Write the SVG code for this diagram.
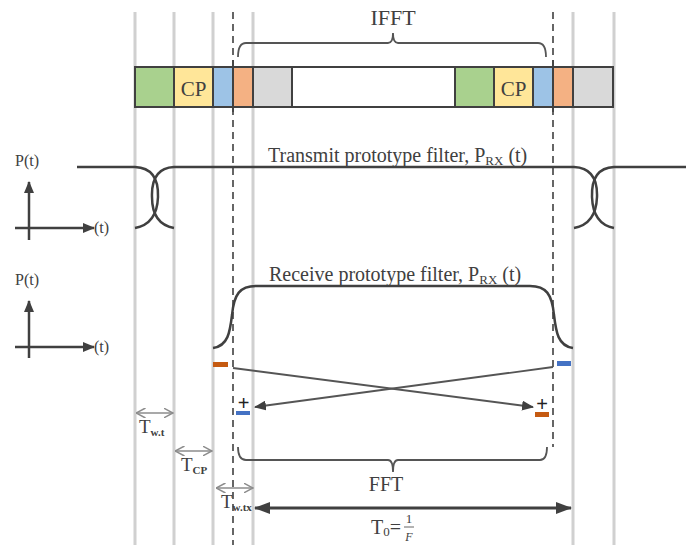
<svg xmlns="http://www.w3.org/2000/svg" width="686" height="547" viewBox="0 0 686 547">
<style>
.g{stroke:#d0d0d0;stroke-width:3;fill:none}
.d{stroke:#404040;stroke-width:1.6;fill:none;stroke-dasharray:7,5}
.box{stroke:#404040;stroke-width:2}
.k{stroke:#404040;stroke-width:2.5;fill:none}
.t{font-family:"Liberation Serif","Times New Roman",serif;fill:#404040}
.thin{stroke:#555;stroke-width:1.8;fill:none}
.dim{stroke:#8c8c8c;stroke-width:1.5;fill:none}
</style>
<defs>
<marker id="ah" viewBox="0 0 12 10" refX="11" refY="5" markerWidth="12" markerHeight="10" markerUnits="userSpaceOnUse" orient="auto-start-reverse"><path d="M0,0 L12,5 L0,10 z" fill="#404040"/></marker>
<marker id="ab" viewBox="0 0 16 12" refX="15" refY="6" markerWidth="16" markerHeight="12" markerUnits="userSpaceOnUse" orient="auto-start-reverse"><path d="M0,0 L16,6 L0,12 z" fill="#404040"/></marker>
<marker id="ao" viewBox="0 0 10 10" refX="9.5" refY="5" markerWidth="10" markerHeight="10" markerUnits="userSpaceOnUse" orient="auto-start-reverse"><path d="M0,0 L9.5,5 L0,10" fill="none" stroke="#8c8c8c" stroke-width="1.5"/></marker>
</defs>
<g id="gridlines">
<line class="g" x1="135" y1="12" x2="135" y2="545"/>
<line class="g" x1="174" y1="12" x2="174" y2="545"/>
<line class="g" x1="213" y1="12" x2="213" y2="545"/>
<line class="g" x1="253" y1="12" x2="253" y2="545"/>
<line class="g" x1="573" y1="12" x2="573" y2="545"/>
<line class="g" x1="614" y1="12" x2="614" y2="545"/>
<line class="d" x1="233" y1="12" x2="233" y2="545"/>
<line class="d" x1="553" y1="12" x2="553" y2="447"/>
</g>
<g id="symbol-row">
<rect class="box" x="135" y="67" width="39" height="40" fill="#a9d18e"/>
<rect class="box" x="174" y="67" width="39" height="40" fill="#ffe699"/>
<rect class="box" x="213" y="67" width="20" height="40" fill="#9dc3e6"/>
<rect class="box" x="233" y="67" width="20" height="40" fill="#f4b183"/>
<rect class="box" x="253" y="67" width="39" height="40" fill="#d9d9d9"/>
<rect class="box" x="292" y="67" width="163" height="40" fill="#ffffff"/>
<rect class="box" x="455" y="67" width="39" height="40" fill="#a9d18e"/>
<rect class="box" x="494" y="67" width="39" height="40" fill="#ffe699"/>
<rect class="box" x="533" y="67" width="20" height="40" fill="#9dc3e6"/>
<rect class="box" x="553" y="67" width="20" height="40" fill="#f4b183"/>
<rect class="box" x="573" y="67" width="40" height="40" fill="#d9d9d9"/>
<text class="t" x="193.5" y="96" font-size="21" text-anchor="middle">CP</text>
<text class="t" x="513.5" y="96" font-size="21" text-anchor="middle">CP</text>
<line class="d" x1="233" y1="60" x2="233" y2="112"/>
<line class="d" x1="553" y1="60" x2="553" y2="112"/>
</g>
<g id="ifft">
<path class="thin" d="M238,57 Q238,43 246,43 L388,43 Q393,43 393,33 Q393,43 398,43 L538,43 Q546,43 546,57"/>
<text class="t" x="393" y="25" font-size="22" text-anchor="middle">IFFT</text>
</g>
<g id="transmit-filter">
<path class="k" d="M77,167 L135,167 Q159,168 158,197 Q157,224 135,228"/>
<path class="k" d="M686,167 L614,167 Q591,168 592,197 Q593,224 614,228"/>
<path class="k" d="M174,228 Q152,224 152,197 Q151,168 174,167 L574,167 Q598,168 597,197 Q596,224 574,228"/>
<text class="t" x="268" y="162" font-size="20">Transmit prototype filter, P<tspan font-size="13" dy="3">RX</tspan><tspan dy="-3"> (t)</tspan></text>
</g>
<g id="axes-1">
<line class="k" x1="29" y1="240" x2="29" y2="182" marker-end="url(#ah)"/>
<line class="k" x1="15" y1="228" x2="94" y2="228" marker-end="url(#ah)"/>
<text class="t" x="15" y="166" font-size="16">P(t)</text>
<text class="t" x="94" y="233" font-size="16">(t)</text>
</g>
<g id="axes-2">
<line class="k" x1="29" y1="358" x2="29" y2="301" marker-end="url(#ah)"/>
<line class="k" x1="15" y1="347" x2="94" y2="347" marker-end="url(#ah)"/>
<text class="t" x="15" y="285" font-size="16">P(t)</text>
<text class="t" x="94" y="352" font-size="16">(t)</text>
</g>
<g id="receive-filter">
<path class="k" d="M213,348 C228,346 230,332 232,315 C234,294 240,286 256,286 L530,286 C546,286 552,294 554,315 C556,332 558,346 573,348"/>
<text class="t" x="269" y="281" font-size="20">Receive prototype filter, P<tspan font-size="13" dy="3">RX</tspan><tspan dy="-3"> (t)</tspan></text>
<rect x="213" y="362" width="15" height="5" fill="#c55a11"/>
<rect x="557" y="361" width="14" height="5" fill="#4472c4"/>
</g>
<g id="connectors">
<line class="thin" x1="233" y1="368" x2="533" y2="407" marker-end="url(#ah)"/>
<line class="thin" x1="553" y1="367" x2="255" y2="407" marker-end="url(#ah)"/>
</g>
<g id="markers">
<text x="243.5" y="410" font-size="20" text-anchor="middle" font-family="Liberation Sans, sans-serif" fill="#222">+</text>
<rect x="236" y="411" width="14" height="4" fill="#4472c4"/>
<text x="542" y="411" font-size="20" text-anchor="middle" font-family="Liberation Sans, sans-serif" fill="#222">+</text>
<rect x="535" y="412" width="14" height="5" fill="#c55a11"/>
</g>
<g id="fft">
<path class="thin" d="M238,447 Q238,460 246,460 L388,460 Q393,460 393,472 Q393,460 398,460 L540,460 Q547,460 547,447"/>
<text class="t" x="386" y="491" font-size="20" text-anchor="middle">FFT</text>
</g>
<g id="dimensions">
<line class="dim" x1="136" y1="413" x2="173" y2="413" marker-start="url(#ao)" marker-end="url(#ao)"/>
<text class="t" x="139" y="433" font-size="19">T<tspan font-size="11" font-weight="bold" dy="3">w.t</tspan></text>
<line class="dim" x1="175" y1="451" x2="212" y2="451" marker-start="url(#ao)" marker-end="url(#ao)"/>
<text class="t" x="181" y="471" font-size="19">T<tspan font-size="11" font-weight="bold" dy="3">CP</tspan></text>
<line class="dim" x1="216" y1="488" x2="253" y2="488" marker-start="url(#ao)" marker-end="url(#ao)"/>
<text class="t" x="221" y="508" font-size="19">T<tspan font-size="11" font-weight="bold" dy="3">w.tx</tspan></text>
<line stroke="#404040" stroke-width="3" x1="255" y1="508" x2="571" y2="508" marker-start="url(#ab)" marker-end="url(#ab)"/>
<text class="t" x="371" y="534" font-size="20">T<tspan font-size="13" dy="2">0</tspan><tspan dy="-2">=</tspan></text>
<text class="t" x="409" y="523" font-size="13" text-anchor="middle">1</text>
<line stroke="#404040" stroke-width="0.8" x1="404" y1="527" x2="414" y2="527"/>
<text class="t" x="409" y="541" font-size="12" font-style="italic" text-anchor="middle">F</text>
</g>
</svg>
